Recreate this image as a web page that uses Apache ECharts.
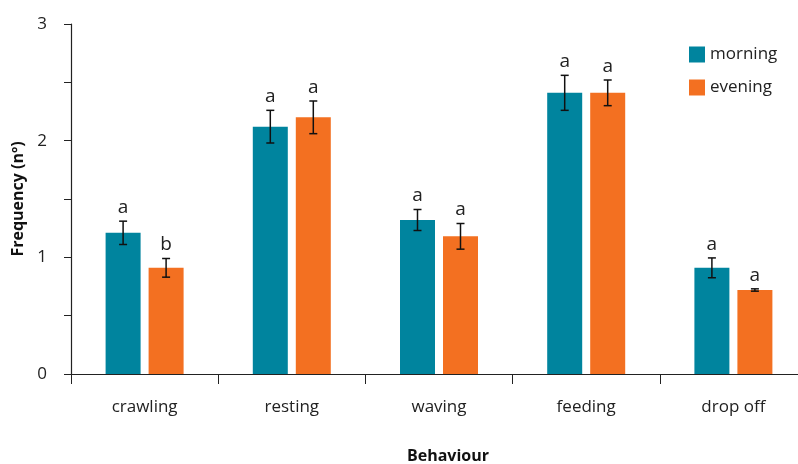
<!DOCTYPE html>
<html><head><meta charset="utf-8">
<script src="https://cdn.jsdelivr.net/npm/echarts@6/dist/echarts.min.js"></script>
<style>html,body{margin:0;padding:0;background:#fff;overflow:hidden}#c{width:798px;height:464px}</style>
</head><body><div id="c"></div>
<script>
const categories = ['crawling','resting','waving','feeding','drop off'];
const morning = [1.21, 2.12, 1.32, 2.41, 0.91];
const evening = [0.91, 2.20, 1.18, 2.41, 0.72];
const morningErr = [0.10, 0.14, 0.09, 0.15, 0.085];
const eveningErr = [0.08, 0.14, 0.11, 0.11, 0.01];
const morningLetters = ['a','a','a','a','a'];
const eveningLetters = ['b','a','a','a','a'];

const BAR_W = 35, GAP = 8;
const FONT = '"Open Sans", "Noto Sans", sans-serif';

function errSeries(name, vals, errs, letters, side){
  return {
    type:'custom', name: name + ' err', z: 10, silent:true, clip:false,
    data: vals.map((v,i)=>[i, v, errs[i]]),
    renderItem: function(params, api){
      const i = api.value(0), v = api.value(1), e = api.value(2);
      const letter = letters[params.dataIndex];
      const c = api.coord([i, v]);
      const x = c[0] + side * (BAR_W + GAP) / 2;
      const top = api.coord([i, v + e])[1];
      const bot = api.coord([i, v - e])[1];
      const cap = 4;
      const st = {stroke:'#111', lineWidth:1.5};
      return {type:'group', children:[
        {type:'line', shape:{x1:x,y1:top,x2:x,y2:bot}, style:st},
        {type:'line', shape:{x1:x-cap,y1:top,x2:x+cap,y2:top}, style:st},
        {type:'line', shape:{x1:x-cap,y1:bot,x2:x+cap,y2:bot}, style:st},
        {type:'text', style:{text:letter, x:x, y:top-4, align:'center', verticalAlign:'bottom',
          font:'19px ' + FONT, fill:'#222'}}
      ]};
    }
  };
}

const chart = echarts.init(document.getElementById('c'));
chart.setOption({
  animation:false,
  grid:{left:71, top:24, width:736, height:350, containLabel:false, outerBoundsMode:'none'},
  legend:{
    orient:'vertical', left:684, top:41, itemWidth:16, itemHeight:16, itemGap:16,
    data:['morning','evening'], icon:'rect',
    textStyle:{fontSize:17, color:'#222', fontFamily:FONT}
  },
  xAxis:{
    type:'category', data:categories,
    axisLine:{lineStyle:{color:'#222', width:1.2}},
    axisTick:{show:true, length:10, lineStyle:{color:'#222'}},
    axisLabel:{fontSize:17, color:'#222', fontFamily:FONT, margin:25},
    name:'Behaviour', nameLocation:'middle', nameGap:74,
    nameTextStyle:{fontSize:16, fontWeight:'bold', color:'#111', fontFamily:FONT, padding:[0,0,0,18]}
  },
  yAxis:{
    type:'value', min:0, max:3, interval:0.5,
    axisLine:{show:true, lineStyle:{color:'#222', width:1.2}},
    axisTick:{show:true, length:7, lineStyle:{color:'#222'}},
    splitLine:{show:false},
    axisLabel:{fontSize:17, color:'#222', fontFamily:FONT, margin:24,
      formatter: v => (Math.abs(v - Math.round(v)) < 1e-9 ? String(Math.round(v)) : '')},
    name:'Frequency (nº)', nameLocation:'middle', nameGap:44,
    nameTextStyle:{fontSize:16, fontWeight:'bold', color:'#111', fontFamily:FONT}
  },
  series:[
    {type:'bar', name:'morning', data:morning, barWidth:BAR_W, barGap:(GAP/BAR_W*100)+'%',
      itemStyle:{color:'#00849E'}},
    {type:'bar', name:'evening', data:evening, barWidth:BAR_W, barGap:(GAP/BAR_W*100)+'%',
      itemStyle:{color:'#F37021'}},
    errSeries('morning', morning, morningErr, morningLetters, -1),
    errSeries('evening', evening, eveningErr, eveningLetters, 1)
  ]
});
</script></body></html>
